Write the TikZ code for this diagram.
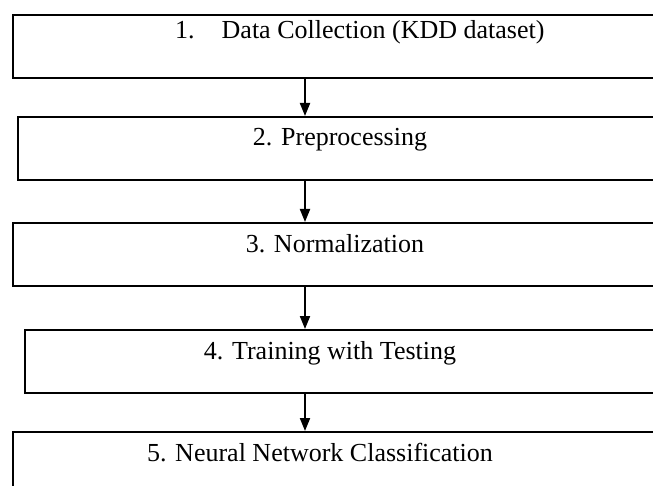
\documentclass[tikz,border=0pt]{standalone}
\usepackage{fontspec}
\setmainfont{Liberation Serif}
\usetikzlibrary{arrows.meta}

\tikzset{
  stepbox/.style={draw, line width=2pt, minimum width=660pt, minimum height=63pt, inner sep=0pt, anchor=north west},
  steptext/.style={font=\fontsize{26}{30}\selectfont, inner sep=0pt, anchor=base},
  flow/.style={-{Triangle[width=10pt,length=13pt]}, line width=2pt},
}

\begin{document}
\begin{tikzpicture}[x=1pt,y=-1pt]
\clip (0,0) rectangle (653,486);

\node[stepbox] (b1) at (12,14) {};
\node[steptext, anchor=base west] (t1) at (175,39) {1.\hspace{27pt}Data Collection (KDD dataset)};

\node[stepbox] (b2) at (17,116) {};
\node[steptext] (t2) at (340,146) {2. Preprocessing};

\node[stepbox] (b3) at (12,222) {};
\node[steptext] (t3) at (335,253) {3. Normalization};

\node[stepbox] (b4) at (24,329) {};
\node[steptext] (t4) at (330,359) {4. Training with Testing};

\node[stepbox] (b5) at (12,431) {};
\node[steptext] (t5) at (320,461) {5. Neural Network Classification};

\coordinate (axis) at (305,0);
\draw[flow] (axis |- b1.south) -- (axis |- b2.north);
\draw[flow] (axis |- b2.south) -- (axis |- b3.north);
\draw[flow] (axis |- b3.south) -- (axis |- b4.north);
\draw[flow] (axis |- b4.south) -- (axis |- b5.north);
\end{tikzpicture}
\end{document}
